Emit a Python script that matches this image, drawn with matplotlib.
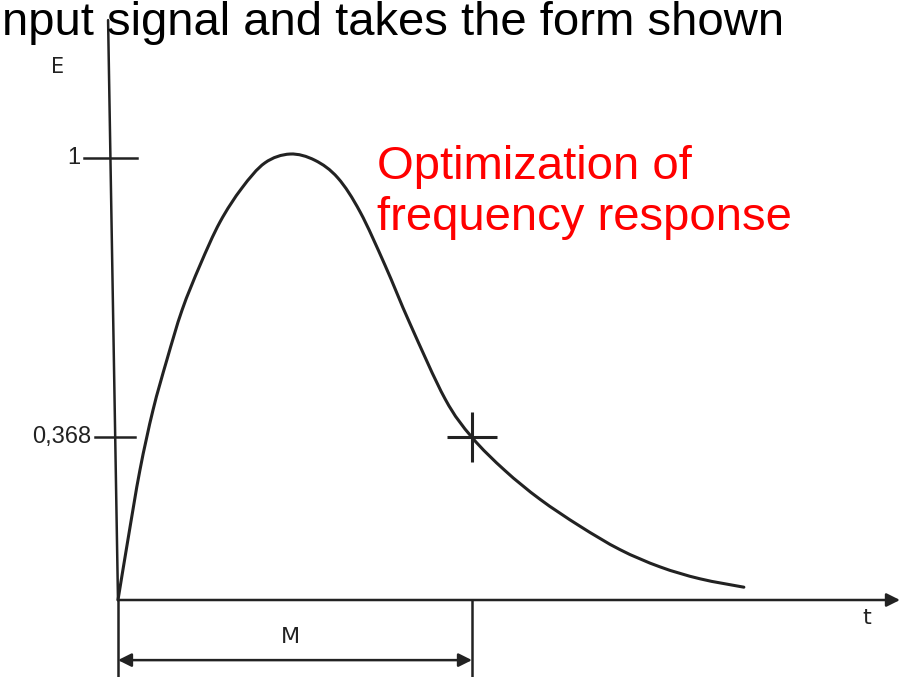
import numpy as np
import matplotlib
matplotlib.use("Agg")
import matplotlib.pyplot as plt
from matplotlib.path import Path
from matplotlib.patches import PathPatch

# pulse response E(t), t in units of M (the time where E falls to 1/e)
t_vals = [0.0, 0.028, 0.062, 0.099, 0.138, 0.181, 0.232, 0.288, 0.350,
          0.415, 0.486, 0.556, 0.621, 0.684, 0.754, 0.825, 0.924, 1.0,
          1.093, 1.192, 1.305, 1.418, 1.531, 1.644, 1.768]
e_vals = [0.0, 0.136, 0.294, 0.430, 0.543, 0.656, 0.758, 0.855, 0.932,
          0.989, 1.009, 0.995, 0.955, 0.878, 0.758, 0.625, 0.455, 0.368,
          0.293, 0.228, 0.167, 0.114, 0.075, 0.048, 0.029]

ytick_vals = [1.0, 0.368]
ytick_labels = ["1", "0,368"]
m_time = 1.0
m_level = 0.368

title_text = "nput signal and takes the form shown"
note_text = "Optimization of\nfrequency response"

ink = "#222222"


def smooth_path(xs, ys):
    """Catmull-Rom style cubic Bezier path through the given points."""
    pts = np.column_stack([xs, ys])
    verts = [pts[0]]
    codes = [Path.MOVETO]
    n = len(pts)
    for i in range(n - 1):
        p0 = pts[max(i - 1, 0)]
        p1 = pts[i]
        p2 = pts[i + 1]
        p3 = pts[min(i + 2, n - 1)]
        c1 = p1 + (p2 - p0) / 6.0
        c2 = p2 - (p3 - p1) / 6.0
        verts += [c1, c2, p2]
        codes += [Path.CURVE4] * 3
    return Path(verts, codes)


fig = plt.figure(figsize=(9.01, 6.77), dpi=100)
ax = fig.add_axes([0, 0, 1, 1])
ax.set_xlim(-0.3333, 2.2119)
ax.set_ylim(-0.1742, 1.3575)
ax.axis("off")

# hand drawn axes: E axis leans a little to the left
e_top = 1.312
t_top = -0.028
ax.plot([0, t_top], [0, e_top], color=ink, lw=1.8, solid_capstyle="round")
ax.annotate("", xy=(2.209, 0), xytext=(0, 0),
            arrowprops=dict(arrowstyle="-|>", color=ink, lw=1.8,
                            mutation_scale=20, shrinkA=0, shrinkB=0))

# ticks on the E axis
for val, lab, half in zip(ytick_vals, ytick_labels, [0.076, 0.057]):
    tx = t_top * val / e_top
    ax.plot([tx - half, tx + half], [val, val], color=ink, lw=1.8)
    ax.text(tx - half - 0.01, val, lab, ha="right", va="center",
            fontsize=17, color=ink, family="Liberation Sans")

ax.text(-0.172, 1.205, "E", ha="center", va="center", fontsize=15,
        color=ink, family="DejaVu Sans")
ax.text(2.115, -0.04, "t", ha="center", va="center", fontsize=16,
        color=ink, family="DejaVu Sans")

# the response curve and the 1/e point
ax.add_patch(PathPatch(smooth_path(t_vals, e_vals), facecolor="none",
                       edgecolor=ink, lw=2.2, capstyle="round"))
ax.plot([m_time], [m_level], marker="+", color=ink, markersize=36,
        markeredgewidth=2.2)

# M dimension line under the time axis
for tx in [0, m_time]:
    ax.plot([tx, tx], [0, -0.18], color=ink, lw=1.8)
ax.annotate("", xy=(m_time, -0.136), xytext=(0, -0.136),
            arrowprops=dict(arrowstyle="<|-|>", color=ink, lw=1.8,
                            mutation_scale=20, shrinkA=0, shrinkB=0))
ax.text(m_time * 0.486, -0.084, "M", ha="center", va="center",
        fontsize=16, color=ink, family="DejaVu Sans")

# overlaid slide text
fig.text(0.002, 1 - 35 / 677, title_text, ha="left", va="baseline",
         fontsize=34, color="black", family="Liberation Sans")
fig.text(377 / 901, 1 - 230 / 677, note_text, ha="left", va="baseline",
         fontsize=34, color="#ff0000", family="Liberation Sans",
         linespacing=1.2)

fig.savefig("out.png", dpi=100)
